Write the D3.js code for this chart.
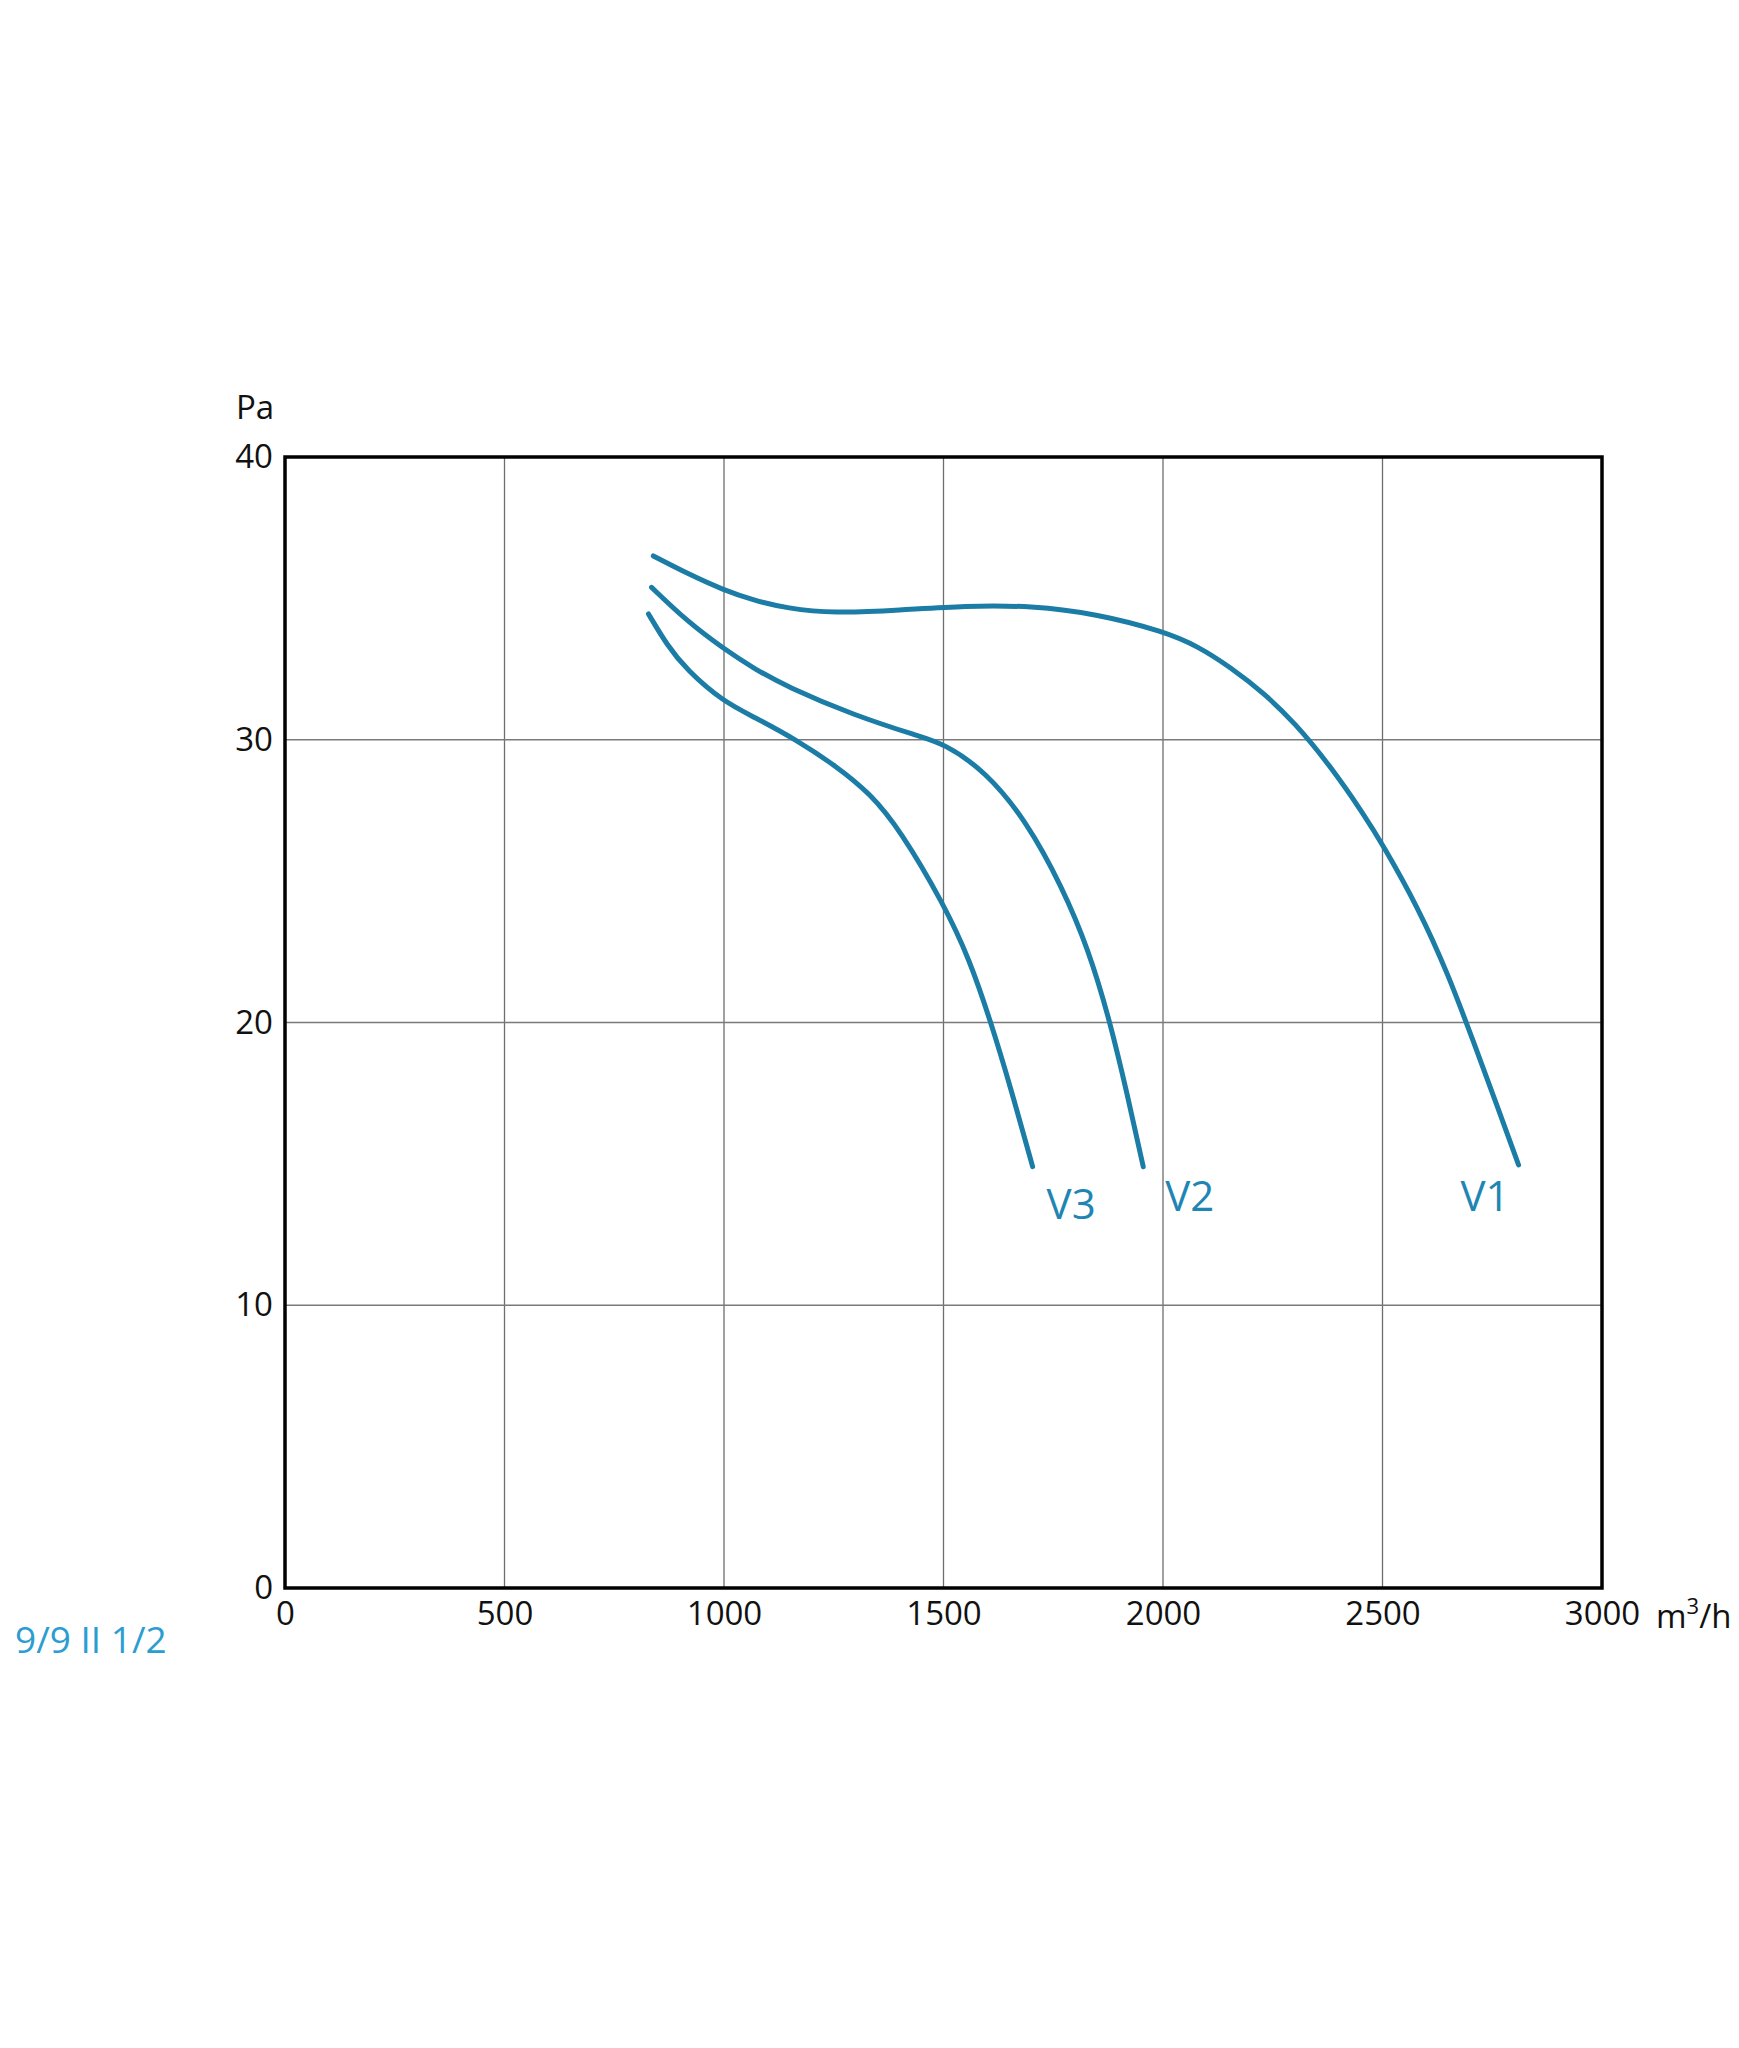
<!DOCTYPE html>
<html>
<head>
<meta charset="utf-8">
<script src="https://cdn.jsdelivr.net/npm/d3@7"></script>
<style>
  html, body { margin: 0; padding: 0; background: #fff; }
  svg { display: block; }
  text { font-family: "Open Sans", "Noto Sans", sans-serif; }
</style>
</head>
<body>
<script>
// ---- data ----
const xTicks = [0, 500, 1000, 1500, 2000, 2500, 3000];
const yTicks = [0, 10, 20, 30, 40];
const seriesNames = ["V1", "V2", "V3"];
const v1 = [[839,36.5],[920,35.85],[998,35.3],[1070,34.92],[1143,34.65],[1250,34.47],[1400,34.58],[1550,34.74],[1700,34.74],[1850,34.45],[2004,33.82],[2080,33.3],[2152,32.58],[2230,31.65],[2300,30.6],[2380,29.1],[2460,27.3],[2500,26.3],[2580,24.1],[2650,21.7],[2710,19.2],[2760,17.1],[2810,14.96]];
const v2 = [[835,35.39],[915,34.2],[998,33.23],[1070,32.5],[1143,31.88],[1295,30.87],[1447,30.11],[1500,29.87],[1595,28.9],[1690,27.1],[1770,24.8],[1830,22.6],[1880,20.0],[1918,17.5],[1955,14.9]];
const v3 = [[828,34.45],[870,33.35],[915,32.47],[998,31.35],[1067,30.82],[1166,29.99],[1257,29.05],[1333,28.1],[1401,26.81],[1500,24.21],[1560,22.2],[1606,20.1],[1652,17.75],[1703,14.9]];
const xUnit = "m";
const yUnit = "Pa";
const modelLabel = "9/9 II 1/2";

// ---- layout ----
const W = 1739, H = 2048;
const mLeft = 285, mRight = 1602, mTop = 457, mBottom = 1588;
const curveColor = "#1b7ca6";
const labelColor = "#1f86b3";

const svg = d3.select("body").append("svg").attr("width", W).attr("height", H);

const x = d3.scaleLinear().domain([0, 3000]).range([mLeft, mRight]);
const y = d3.scaleLinear().domain([0, 40]).range([mBottom, mTop]);

// grid
const grid = svg.append("g");
grid.selectAll("line.v").data(xTicks.slice(1, -1)).enter().append("line")
  .attr("x1", d => x(d)).attr("x2", d => x(d)).attr("y1", mTop).attr("y2", mBottom)
  .attr("stroke", "#6e6e6e").attr("stroke-width", 1.3);
grid.selectAll("line.h").data(yTicks.slice(1, -1)).enter().append("line")
  .attr("x1", mLeft).attr("x2", mRight).attr("y1", d => y(d)).attr("y2", d => y(d))
  .attr("stroke", "#7a7a7a").attr("stroke-width", 1.3);

// axes (labels only) via d3 axes
const xAxis = svg.append("g").attr("transform", `translate(0,${mBottom})`)
  .call(d3.axisBottom(x).tickValues(xTicks).tickSize(0).tickPadding(14).tickFormat(d3.format("d")));
xAxis.select(".domain").remove();
xAxis.selectAll("text").attr("font-size", 33).attr("fill", "#111")
  .attr("font-family", "'Open Sans', sans-serif");

const yAxis = svg.append("g").attr("transform", `translate(${mLeft},0)`)
  .call(d3.axisLeft(y).tickValues(yTicks).tickSize(0).tickPadding(12).tickFormat(d3.format("d")));
yAxis.select(".domain").remove();
yAxis.selectAll("text").attr("font-size", 33).attr("fill", "#111")
  .attr("font-family", "'Open Sans', sans-serif");

// frame
svg.append("rect").attr("x", mLeft).attr("y", mTop)
  .attr("width", mRight - mLeft).attr("height", mBottom - mTop)
  .attr("fill", "none").attr("stroke", "#000").attr("stroke-width", 3.5);

// unit labels
svg.append("text").attr("x", 236).attr("y", 419).attr("font-size", 33).attr("fill", "#111").text(yUnit);
const xu = svg.append("text").attr("x", 1656).attr("y", 1628).attr("font-size", 33).attr("fill", "#111");
xu.append("tspan").text(xUnit);
xu.append("tspan").attr("font-size", 22).attr("dy", -14).text("3");
xu.append("tspan").attr("dy", 14).text("/h");

// curves
const line = d3.line().x(d => x(d[0])).y(d => y(d[1])).curve(d3.curveBasis);
const allSeries = [v1, v2, v3];
svg.append("g").selectAll("path").data(allSeries).enter().append("path")
  .attr("d", line).attr("fill", "none").attr("stroke", curveColor)
  .attr("stroke-width", 5).attr("stroke-linecap", "round");

// series labels, placed relative to each curve's end point
const labelOffsets = [[-58, 46], [22, 44], [14, 52]];
svg.append("g").selectAll("text").data(allSeries).enter().append("text")
  .attr("x", (d, i) => x(d[d.length - 1][0]) + labelOffsets[i][0])
  .attr("y", (d, i) => y(d[d.length - 1][1]) + labelOffsets[i][1])
  .attr("font-size", 42).attr("fill", labelColor)
  .text((d, i) => seriesNames[i]);

// model label
svg.append("text").attr("x", 15).attr("y", 1653).attr("font-size", 37).attr("fill", "#2b9dd1").text(modelLabel);
</script>
</body>
</html>
